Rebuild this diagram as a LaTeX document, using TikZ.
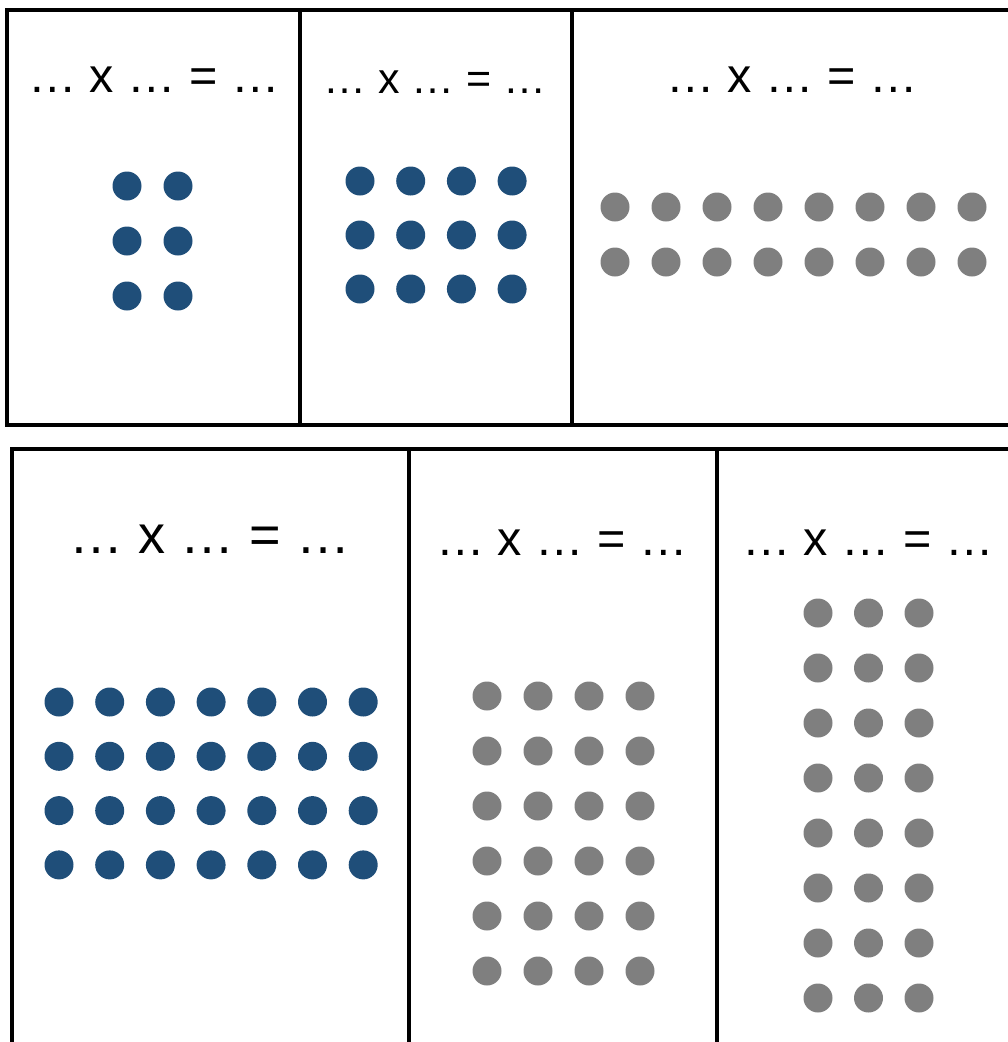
\documentclass[tikz,border=0pt]{standalone}
\usepackage{fontspec}
\setmainfont{Liberation Sans}
\definecolor{dotblue}{HTML}{1F4E79}
\definecolor{dotgray}{HTML}{7F7F7F}
\begin{document}
\begin{tikzpicture}[x=1pt,y=-1pt,
  frame/.style={line width=3.2pt, draw=black},
  eqn/.style={anchor=base, inner sep=0pt, text=black},
  bdot/.style={fill=dotblue},
  gdot/.style={fill=dotgray}]
\useasboundingbox (0,0) rectangle (1008,1042);
\clip (0,0) rectangle (1008,1042);
% frames
\draw[frame] (1030,10) -- (7,10) -- (7,425) -- (1030,425);
\draw[frame] (300,10) -- (300,425);
\draw[frame] (572,10) -- (572,425);
\draw[frame] (12,1060) -- (12,449) -- (1030,449);
\draw[frame] (409,449) -- (409,1060);
\draw[frame] (717,449) -- (717,1060);
% equations
\node[eqn, font=\fontsize{48.5}{58}\selectfont] (e1) at (154,92) {… x … = …};
\node[eqn, font=\fontsize{43}{52}\selectfont] (e2) at (435,93) {… x … = …};
\node[eqn, font=\fontsize{48.5}{58}\selectfont] (e3) at (792,92) {… x … = …};
\node[eqn, font=\fontsize{54}{64}\selectfont] (e4) at (210,553) {… x … = …};
\node[eqn, font=\fontsize{48.5}{58}\selectfont] (e5) at (562,555) {… x … = …};
\node[eqn, font=\fontsize{48.5}{58}\selectfont] (e6) at (868,555) {… x … = …};
% dots: top-left 2x3
\foreach \i in {0,1} \foreach \j in {0,1,2}
  \fill[bdot] (127+51*\i,186+55*\j) circle (14.5);
% top-middle 4x3
\foreach \i in {0,...,3} \foreach \j in {0,1,2}
  \fill[bdot] (360+50.7*\i,181+54*\j) circle (14.5);
% top-right 8x2
\foreach \i in {0,...,7} \foreach \j in {0,1}
  \fill[gdot] (615+51*\i,207+55*\j) circle (14.5);
% bottom-left 7x4
\foreach \i in {0,...,6} \foreach \j in {0,...,3}
  \fill[bdot] (59+50.7*\i,702+54.3*\j) circle (14.5);
% bottom-middle 4x6
\foreach \i in {0,...,3} \foreach \j in {0,...,5}
  \fill[gdot] (487+51*\i,696+55*\j) circle (14.5);
% bottom-right 3x8
\foreach \i in {0,1,2} \foreach \j in {0,...,7}
  \fill[gdot] (818+50.5*\i,613+55*\j) circle (14.5);
\end{tikzpicture}
\end{document}
